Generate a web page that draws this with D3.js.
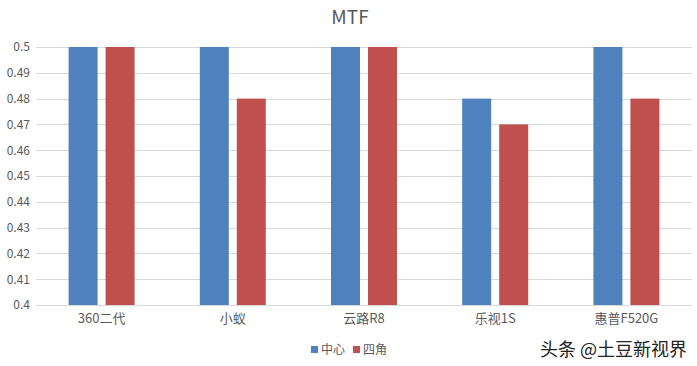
<!DOCTYPE html>
<html>
<head>
<meta charset="utf-8">
<script src="https://cdn.jsdelivr.net/npm/d3@7"></script>
<style>
body { margin: 0; background: #fff; }
text { font-family: "Microsoft YaHei", "Noto Sans CJK SC", sans-serif; }
</style>
</head>
<body>
<div id="chart"></div>
<script>
// data
var categories = ["360二代", "小蚁", "云路R8", "乐视1S", "惠普F520G"];
var seriesNames = ["中心", "四角"];
var centerValues = [0.5, 0.5, 0.5, 0.48, 0.5];
var cornerValues = [0.5, 0.48, 0.5, 0.47, 0.48];
var yTicks = [0.4, 0.41, 0.42, 0.43, 0.44, 0.45, 0.46, 0.47, 0.48, 0.49, 0.5];
var colors = ["#4f81bd", "#c0504d"];

var W = 697, H = 366;
var margin = {top: 47, right: 5, bottom: 61, left: 36};
var width = W - margin.left - margin.right,
    height = H - margin.top - margin.bottom;

var svg = d3.select("#chart").append("svg")
    .attr("width", W)
    .attr("height", H);

// title
svg.append("text")
    .attr("x", 350)
    .attr("y", 24)
    .attr("text-anchor", "middle")
    .attr("font-size", 19)
    .attr("fill", "#595959")
    .text("MTF");

var g = svg.append("g")
    .attr("transform", "translate(" + margin.left + "," + margin.top + ")");

var x0 = d3.scaleBand()
    .domain(categories)
    .range([0, width])
    .padding(0);

var x1 = d3.scaleBand()
    .domain(seriesNames)
    .range([-33, 33])
    .paddingInner(8 / 37);

var y = d3.scaleLinear()
    .domain([0.4, 0.5])
    .range([height, 0]);

// gridlines
g.selectAll("line.grid")
    .data(yTicks)
    .enter()
    .append("line")
    .attr("class", "grid")
    .attr("x1", 0)
    .attr("x2", width)
    .attr("y1", function(d) { return Math.round(y(d)) + 0.5; })
    .attr("y2", function(d) { return Math.round(y(d)) + 0.5; })
    .attr("stroke", "#d9d9d9")
    .attr("stroke-width", 1);

// y labels
var yAxis = g.append("g")
    .call(d3.axisLeft(y).tickValues(yTicks).tickSize(0).tickPadding(6)
        .tickFormat(function(d) { return String(+d.toFixed(2)); }));
yAxis.select(".domain").remove();
yAxis.selectAll("text")
    .attr("font-size", 12)
    .attr("fill", "#595959")
    .attr("font-family", "\"Microsoft YaHei\", \"Noto Sans CJK SC\", sans-serif");

// bars
var rows = categories.map(function(c, i) {
    return {cat: c, vals: [centerValues[i], cornerValues[i]]};
});

var groups = g.selectAll("g.cat")
    .data(rows)
    .enter()
    .append("g")
    .attr("class", "cat")
    .attr("transform", function(d) {
        return "translate(" + (x0(d.cat) + x0.bandwidth() / 2) + ",0)";
    });

groups.selectAll("rect")
    .data(function(d) {
        return d.vals.map(function(v, j) { return {s: seriesNames[j], v: v, j: j}; });
    })
    .enter()
    .append("rect")
    .attr("x", function(d) { return x1(d.s); })
    .attr("width", x1.bandwidth())
    .attr("y", function(d) { return y(d.v); })
    .attr("height", function(d) { return height - y(d.v); })
    .attr("fill", function(d) { return colors[d.j]; });

// x labels
var xAxis = g.append("g")
    .attr("transform", "translate(0," + height + ")")
    .call(d3.axisBottom(x0).tickSize(0).tickPadding(9));
xAxis.select(".domain").remove();
xAxis.selectAll("text")
    .attr("font-size", 13)
    .attr("fill", "#595959")
    .attr("font-family", "\"Microsoft YaHei\", \"Noto Sans CJK SC\", sans-serif");

// legend
var legend = svg.append("g")
    .attr("transform", "translate(311,343)");
var items = legend.selectAll("g")
    .data(seriesNames)
    .enter()
    .append("g")
    .attr("transform", function(d, i) { return "translate(" + (i * 42) + ",0)"; });
items.append("rect")
    .attr("x", 0)
    .attr("y", 3)
    .attr("width", 7)
    .attr("height", 7)
    .attr("fill", function(d, i) { return colors[i]; });
items.append("text")
    .attr("x", 10)
    .attr("y", 11)
    .attr("font-size", 12)
    .attr("fill", "#595959")
    .text(function(d) { return d; });

// watermark
svg.append("text")
    .attr("x", 540)
    .attr("y", 356)
    .attr("font-size", 18)
    .attr("fill", "#222")
    .text("头条 @土豆新视界");
</script>
</body>
</html>
